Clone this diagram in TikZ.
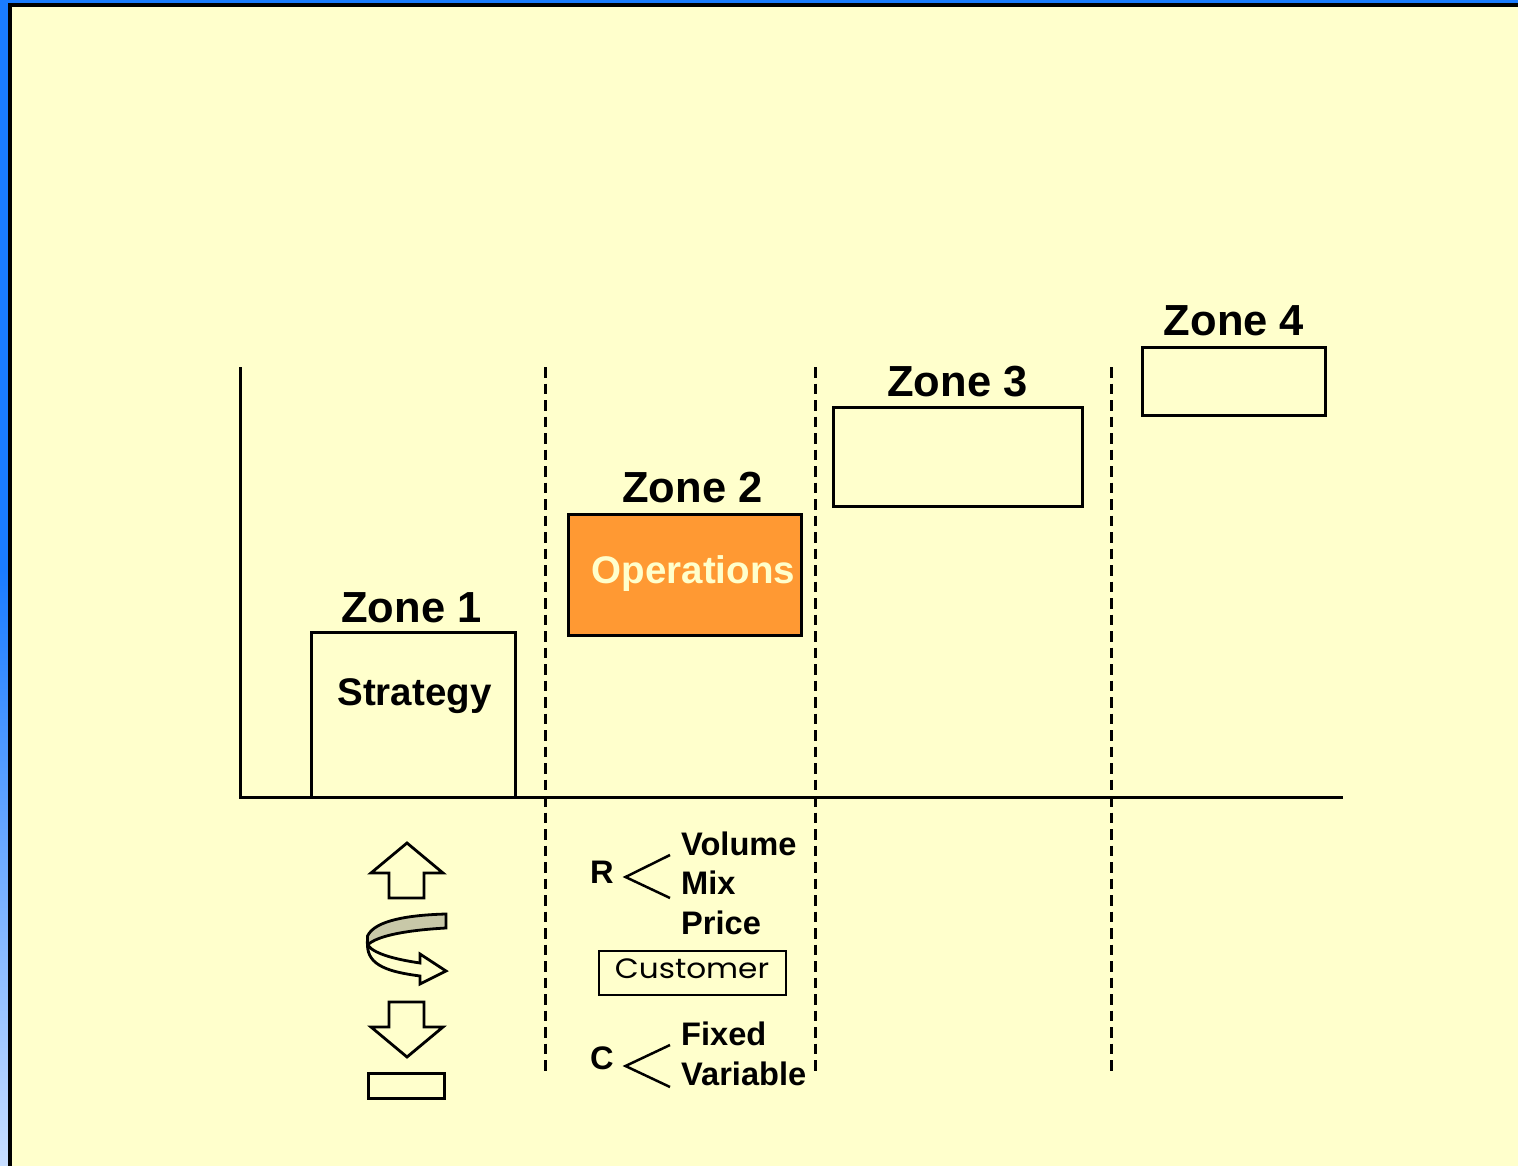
\documentclass[tikz,border=0pt]{standalone}
\usepackage{fontspec}
\usepackage{graphicx}
\setmainfont{Liberation Sans}
\newfontfamily\custfont{Poppins}
\usetikzlibrary{positioning}
\definecolor{paleYellow}{HTML}{FFFFCC}
\definecolor{frameBlue}{HTML}{1A7CFF}
\definecolor{fadeBlue}{HTML}{C8DEFF}
\definecolor{opsOrange}{HTML}{FF9933}
\definecolor{opsText}{HTML}{FFFFCC}
\definecolor{bandGray}{HTML}{C8C8A8}
\tikzset{
  zoneBox/.style={rectangle, draw=black, line width=3pt, inner sep=0pt},
  zoneLabel/.style={anchor=base, inner sep=0pt, font=\bfseries\fontsize{43.5}{43.5}\selectfont},
  itemLabel/.style={anchor=base west, inner sep=0pt, font=\bfseries\fontsize{32.6}{32.6}\selectfont},
  axisLine/.style={draw=black, line width=3pt},
  zoneSplit/.style={draw=black, line width=3pt, dash pattern=on 10.5pt off 6pt},
  branchLine/.style={draw=black, line width=2.5pt},
  arrowShape/.style={draw=black, line width=2.8pt, fill=paleYellow, line join=miter},
}
\begin{document}
\begin{tikzpicture}[x=1pt, y=-1pt]
  \useasboundingbox (0,0) rectangle (1518,1166);
  % frame
  \fill[frameBlue] (0,0) rectangle (1518,4);
  \fill[frameBlue] (0,0) rectangle (8,570);
  \shade[top color=frameBlue, bottom color=fadeBlue] (0,570) rectangle (8,1166);
  \fill[black] (8,3) rectangle (1518,7);
  \fill[black] (8,3) rectangle (12,1166);
  \fill[paleYellow] (12,7) rectangle (1518,1166);

  % zone boxes
  \node[zoneBox, minimum width=204pt, minimum height=165pt] (z1) at (413.5,715) {};
  \node[zoneBox, fill=opsOrange, minimum width=233pt, minimum height=121pt] (z2) at (685,575) {};
  \node[zoneBox, minimum width=249pt, minimum height=99pt] (z3) at (958,457) {};
  \node[zoneBox, minimum width=183pt, minimum height=68pt] (z4) at (1234,381.5) {};
  \node[zoneLabel] (l1) at (411.5,622) {Zone 1};
  \node[zoneLabel] (l2) at (692.5,502) {Zone 2};
  \node[zoneLabel] (l3) at (957.5,396) {Zone 3};
  \node[zoneLabel] (l4) at (1234,335) {Zone 4};
  \node[anchor=base, inner sep=0pt, text=opsText, font=\bfseries\fontsize{38.5}{38.5}\selectfont] (ops) at (693.5,583) {Operations};
  \node[anchor=base, inner sep=0pt, font=\bfseries\fontsize{38.5}{38.5}\selectfont] (strat) at (414.5,705) {Strategy};

  % axes and zone borders
  \coordinate (top) at (240.5,367);
  \coordinate (orig) at (240.5,797.5);
  \coordinate (end) at (1343,797.5);
  \draw[axisLine] (top) -- (orig) -- (end);
  \foreach \name/\xx in {a/545.5, b/815.5, c/1111.5} {
    \coordinate (\name1) at (\xx,367);
    \coordinate (\name2) at (\xx,1071);
    \draw[zoneSplit] (\name1) -- (\name2);
  }

  % arrows
  \draw[arrowShape] (407,843) -- (443,873) -- (424,873) -- (424,898) -- (389,898) -- (389,873) -- (371,873) -- cycle;
  \draw[arrowShape] (389,1002) -- (424,1002) -- (424,1027) -- (443,1027) -- (407,1057) -- (371,1027) -- (389,1027) -- cycle;
  \draw[arrowShape] (367.5,945) .. controls (375,955) and (400,960) .. (420,963) -- (420,954) -- (446,971) -- (420,984) -- (420,976)
    .. controls (390,972) and (367.5,966) .. (367.5,945) -- cycle;
  \draw[arrowShape, fill=bandGray] (446,914) .. controls (410,915) and (375,920) .. (367.5,936) -- (367.5,945)
    .. controls (378,935) and (410,930) .. (446,928) -- cycle;
  \node[zoneBox, minimum width=76pt, minimum height=25pt] (base) at (406.5,1086) {};

  % revenue
  \node[itemLabel] (r) at (590,883) {R};
  \coordinate (r0) at (625.5,877);
  \coordinate (r1) at (670,855);
  \coordinate (r2) at (670,898);
  \draw[branchLine] (r1) -- (r0) -- (r2);
  \node[itemLabel] (vol) at (681,855) {Volume};
  \node[itemLabel] (mix) at (681,894) {Mix};
  \node[itemLabel] (price) at (681,934) {Price};
  \node[zoneBox, minimum width=187pt, minimum height=44pt, line width=2.6pt] (cust) at (692.5,973) {};
  \node[anchor=base, inner sep=0pt, font=\custfont\fontsize{28}{28}\selectfont] (custl) at (692,978.5) {\scalebox{1.11}[1]{Customer}};

  % cost
  \node[itemLabel] (c) at (590,1069) {C};
  \coordinate (c0) at (625.5,1066);
  \coordinate (c1) at (670,1045);
  \coordinate (c2) at (670,1087);
  \draw[branchLine] (c1) -- (c0) -- (c2);
  \node[itemLabel] (fix) at (681,1045) {Fixed};
  \node[itemLabel] (var) at (681,1085) {Variable};
\end{tikzpicture}
\end{document}
